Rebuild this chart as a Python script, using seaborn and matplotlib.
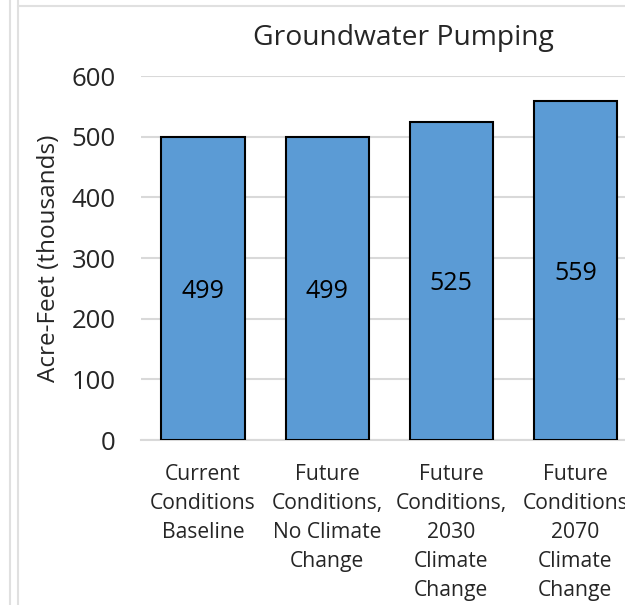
import pandas as pd
import numpy as np
import matplotlib
matplotlib.use('Agg')
import matplotlib.pyplot as plt
import seaborn as sns

# Data
scenarios = ['Current\nConditions\nBaseline',
             'Future\nConditions,\nNo Climate\nChange',
             'Future\nConditions,\n2030\nClimate\nChange',
             'Future\nConditions\n2070\nClimate\nChange']
pumping = [499, 499, 525, 559]
yticks = [0, 100, 200, 300, 400, 500, 600]

df = pd.DataFrame({'Scenario': scenarios, 'Pumping': pumping})

sns.set_style('white')
plt.rcParams['font.family'] = ['Open Sans', 'DejaVu Sans']

fig = plt.figure(figsize=(6.25, 6.05), dpi=100)
ax = fig.add_axes([141 / 625, 1 - 440 / 605, 1 - 141 / 625, (440 - 76) / 605])

sns.barplot(data=df, x='Scenario', y='Pumping', color='#5B9BD5', width=0.67,
            edgecolor='black', linewidth=1.5, saturation=1, ax=ax, zorder=3)

# value labels in the middle of each bar
for i, v in enumerate(pumping):
    ax.text(i, v / 2, str(v), ha='center', va='center_baseline', fontsize=18, color='black', zorder=4)

ax.set_ylim(0, 600)
ax.set_xlim(-0.5, 3.4)
ax.set_yticks(yticks)
ax.set_yticklabels([str(t) for t in yticks], fontsize=18.5)
ax.tick_params(axis='y', length=0, pad=18)
ax.tick_params(axis='x', length=0, pad=17, labelsize=15.2)
for lbl in ax.get_xticklabels():
    lbl.set_linespacing(1.5)
ax.grid(axis='y', color='#D9D9D9', linewidth=1.5, zorder=0)
ax.set_axisbelow(True)
for s in ['top', 'right', 'left']:
    ax.spines[s].set_visible(False)
ax.spines['bottom'].set_color('#D9D9D9')
ax.spines['bottom'].set_linewidth(1.5)
ax.set_xlabel('')
ax.set_ylabel('Acre-Feet (thousands)', fontsize=17.5, labelpad=8)

fig.text(403 / 625, 1 - 38 / 605, 'Groundwater Pumping', ha='center', va='center', fontsize=20.3)

# faint frame lines from the cropped chart area
fig.add_artist(plt.Line2D([10 / 625, 10 / 625], [0, 1], color='#E0E0E0', lw=1.5))
fig.add_artist(plt.Line2D([18 / 625, 18 / 625], [0, 1], color='#E0E0E0', lw=1.5))
fig.add_artist(plt.Line2D([18 / 625, 1], [1 - 6 / 605, 1 - 6 / 605], color='#E0E0E0', lw=1.5))

fig.savefig('out.png', dpi=100)
